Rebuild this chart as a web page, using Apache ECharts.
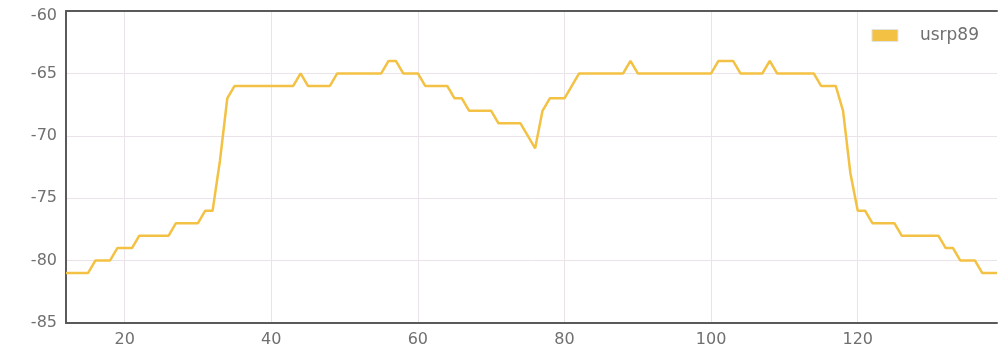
<!DOCTYPE html>
<html>
<head>
<meta charset="utf-8">
<script src="https://cdn.jsdelivr.net/npm/echarts@6/dist/echarts.min.js"></script>
<style>
  html, body { margin: 0; padding: 0; background: #fff; }
  #chart { width: 998px; height: 348px; }
</style>
</head>
<body>
<div id="chart"></div>
<script>
// Sample index (x) and received signal level (y) for usrp89
const sampleIndex = [
  12, 13, 14, 15, 16, 17, 18, 19, 20, 21, 22, 23, 24, 25, 26, 27, 28, 29, 30, 31,
  32, 33, 34, 35, 36, 37, 38, 39, 40, 41, 42, 43, 44, 45, 46, 47, 48, 49, 50, 51,
  52, 53, 54, 55, 56, 57, 58, 59, 60, 61, 62, 63, 64, 65, 66, 67, 68, 69, 70, 71,
  72, 73, 74, 75, 76, 77, 78, 79, 80, 81, 82, 83, 84, 85, 86, 87, 88, 89, 90, 91,
  92, 93, 94, 95, 96, 97, 98, 99, 100, 101, 102, 103, 104, 105, 106, 107, 108, 109, 110, 111,
  112, 113, 114, 115, 116, 117, 118, 119, 120, 121, 122, 123, 124, 125, 126, 127, 128, 129, 130, 131,
  132, 133, 134, 135, 136, 137, 138, 139
];
const usrp89 = [
  -81, -81, -81, -81, -80, -80, -80, -79, -79, -79, -78, -78, -78, -78, -78, -77, -77, -77, -77, -76,
  -76, -72, -67, -66, -66, -66, -66, -66, -66, -66, -66, -66, -65, -66, -66, -66, -66, -65, -65, -65,
  -65, -65, -65, -65, -64, -64, -65, -65, -65, -66, -66, -66, -66, -67, -67, -68, -68, -68, -68, -69,
  -69, -69, -69, -70, -71, -68, -67, -67, -67, -66, -65, -65, -65, -65, -65, -65, -65, -64, -65, -65,
  -65, -65, -65, -65, -65, -65, -65, -65, -65, -64, -64, -64, -65, -65, -65, -65, -64, -65, -65, -65,
  -65, -65, -65, -66, -66, -66, -68, -73, -76, -76, -77, -77, -77, -77, -78, -78, -78, -78, -78, -78,
  -79, -79, -80, -80, -80, -81, -81, -81
];
const xTickValues = [20, 40, 60, 80, 100, 120];
const yMin = -85;
const yMax = -60;
const seriesName = 'usrp89';

const points = sampleIndex.map((x, i) => [x, usrp89[i]]);

const labelStyle = {
  color: '#707070',
  fontFamily: 'DejaVu Sans',
  fontSize: 16
};
const gridLineColor = '#ebe3ea';
const frameColor = '#5a5a5a';

const chart = echarts.init(document.getElementById('chart'), null, { renderer: 'canvas' });
chart.setOption({
  animation: false,
  backgroundColor: '#ffffff',
  grid: { left: 66, right: 1, top: 11, bottom: 25, containLabel: false },
  legend: {
    right: 0,
    top: 12,
    padding: [15, 19, 10, 11],
    backgroundColor: '#ffffff',
    icon: 'rect',
    itemWidth: 26,
    itemHeight: 12,
    itemStyle: { borderColor: '#e2e2e2', borderWidth: 1 },
    textStyle: Object.assign({ padding: [0, 0, 0, 17] }, labelStyle, { fontSize: 17 }),
    data: [seriesName]
  },
  xAxis: [
    {
      type: 'value',
      min: sampleIndex[0],
      max: sampleIndex[sampleIndex.length - 1],
      axisLine: { show: true, onZero: false, lineStyle: { color: frameColor, width: 2 } },
      axisTick: { show: false, customValues: xTickValues },
      axisLabel: Object.assign({ margin: 9, customValues: xTickValues }, labelStyle),
      splitLine: { show: true, lineStyle: { color: gridLineColor, width: 1 } }
    },
    {
      type: 'value',
      position: 'top',
      min: sampleIndex[0],
      max: sampleIndex[sampleIndex.length - 1],
      axisLine: { show: true, onZero: false, lineStyle: { color: frameColor, width: 2 } },
      axisTick: { show: false },
      axisLabel: { show: false },
      splitLine: { show: false }
    }
  ],
  yAxis: {
    type: 'value',
    min: yMin,
    max: yMax,
    interval: 5,
    axisLine: { show: true, onZero: false, lineStyle: { color: frameColor, width: 2 } },
    axisTick: { show: false },
    axisLabel: Object.assign({
      margin: 9,
      // keep the topmost label clear of the chart's upper edge
      formatter: v => (v === yMax ? '{top|' + v + '}' : String(v)),
      rich: { top: Object.assign({ lineHeight: 26, verticalAlign: 'bottom' }, labelStyle) }
    }, labelStyle),
    splitLine: { show: true, lineStyle: { color: gridLineColor, width: 1 } }
  },
  series: [
    {
      name: seriesName,
      type: 'line',
      xAxisIndex: 0,
      data: points,
      showSymbol: false,
      symbol: 'none',
      color: '#f3c143',
      lineStyle: { color: '#f3c143', width: 2.5 },
      z: 3
    }
  ]
});
</script>
</body>
</html>
